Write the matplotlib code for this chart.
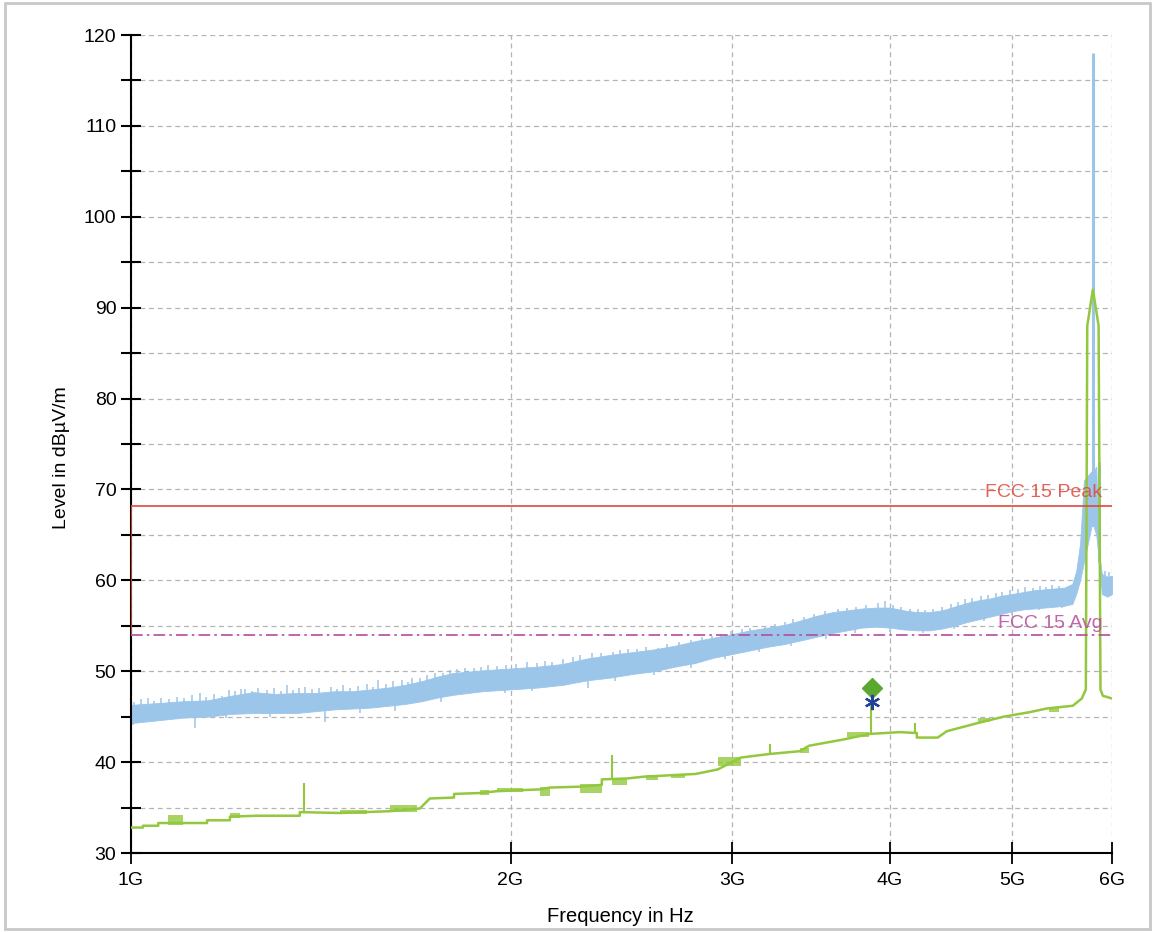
import numpy as np
import matplotlib
matplotlib.use("Agg")
import matplotlib.pyplot as plt
from matplotlib.ticker import FixedLocator, FuncFormatter, MultipleLocator
from matplotlib.patches import Rectangle

plt.rcParams["font.family"] = ["Liberation Sans", "DejaVu Sans"]

# ---- Peak trace: noise band envelope (GHz, dBµV/m) ----
peak_f = [1.00, 1.05, 1.10, 1.15, 1.20, 1.25, 1.30, 1.35, 1.40, 1.45, 1.50, 1.55,
          1.60, 1.65, 1.70, 1.75, 1.80, 1.90, 2.00, 2.10, 2.20, 2.30, 2.40, 2.50,
          2.60, 2.70, 2.80, 2.90, 3.00, 3.10, 3.20, 3.30, 3.40, 3.50, 3.60, 3.70,
          3.80, 3.90, 4.00, 4.10, 4.20, 4.30, 4.40, 4.50, 4.60, 4.70, 4.80, 4.90,
          5.00, 5.10, 5.20, 5.30, 5.40, 5.50, 5.58, 5.62, 5.66, 5.70, 5.74, 5.78,
          5.80, 5.83, 5.86, 5.89, 5.95, 6.00]
peak_lo = [44.3, 44.6, 44.9, 45.0, 45.3, 45.4, 45.4, 45.4, 45.6, 45.8, 45.9, 46.0,
           46.2, 46.4, 46.7, 47.1, 47.4, 47.8, 48.0, 48.2, 48.5, 49.0, 49.3, 49.7,
           50.0, 50.5, 50.9, 51.5, 51.9, 52.3, 52.7, 53.0, 53.4, 53.8, 54.2, 54.5,
           54.8, 54.9, 54.8, 54.6, 54.5, 54.5, 54.7, 55.0, 55.4, 55.7, 56.0, 56.3,
           56.6, 56.8, 56.9, 57.0, 57.1, 57.2, 57.4, 58.5, 60.0, 62.0, 64.0, 66.0,
           66.0, 65.0, 62.0, 58.5, 58.2, 58.5]
peak_hi = [46.3, 46.5, 46.7, 46.8, 47.3, 47.7, 47.5, 47.6, 47.6, 47.8, 47.8, 48.0,
           48.2, 48.5, 48.9, 49.4, 49.8, 50.1, 50.3, 50.5, 50.8, 51.4, 51.8, 52.1,
           52.4, 52.8, 53.3, 53.7, 54.1, 54.5, 54.8, 55.1, 55.6, 56.1, 56.5, 56.7,
           56.9, 57.0, 57.0, 56.7, 56.5, 56.5, 56.7, 57.1, 57.5, 57.8, 58.0, 58.3,
           58.5, 58.7, 58.9, 59.0, 59.1, 59.2, 59.6, 61.0, 64.0, 71.0, 71.5, 72.0,
           72.0, 72.5, 63.0, 60.7, 60.4, 60.5]

# Upward excursions of the peak trace: tip levels
peak_up_f = [1.006, 1.018, 1.031, 1.043, 1.057, 1.072, 1.088, 1.101, 1.118, 1.134,
             1.146, 1.163, 1.181, 1.196, 1.209, 1.222, 1.231, 1.247, 1.262, 1.281,
             1.298, 1.314, 1.329, 1.345, 1.360, 1.374, 1.392, 1.410, 1.441, 1.458,
             1.473, 1.492, 1.515, 1.538, 1.555, 1.570, 1.592, 1.615, 1.640, 1.658,
             1.671, 1.695, 1.716, 1.742, 1.768, 1.790, 1.815, 1.840, 1.870, 1.895,
             1.919, 1.950, 1.985, 2.020, 2.060, 2.100, 2.130, 2.158, 2.200, 2.240,
             2.270, 2.320, 2.360, 2.411, 2.445, 2.479, 2.520, 2.560, 2.618, 2.660,
             2.720, 2.780, 2.840, 2.888, 2.940, 2.990, 3.050, 3.100, 3.183, 3.240,
             3.301, 3.350, 3.420, 3.480, 3.550, 3.637, 3.700, 3.760, 3.830, 3.913,
             3.962, 4.020, 4.080, 4.150, 4.210, 4.264, 4.330, 4.400, 4.470, 4.530,
             4.585, 4.650, 4.720, 4.780, 4.850, 4.907, 4.980, 5.050, 5.117, 5.190,
             5.260, 5.320, 5.375, 5.450, 5.534, 5.920, 5.970]
peak_up_lvl = [46.6, 46.9, 47.0, 46.7, 47.0, 46.9, 47.2, 47.0, 47.4, 47.6,
               47.2, 47.5, 47.3, 47.9, 47.8, 48.0, 48.0, 47.8, 48.2, 47.9,
               48.1, 47.8, 48.5, 47.9, 48.1, 48.3, 48.0, 48.2, 48.3, 48.0,
               48.5, 48.2, 48.4, 48.6, 48.3, 49.0, 48.6, 48.9, 49.0, 48.8,
               49.3, 49.2, 49.6, 49.8, 49.8, 50.1, 50.2, 50.3, 50.4, 50.5,
               50.7, 50.6, 50.7, 50.8, 51.0, 50.9, 51.1, 51.0, 51.3, 51.6,
               51.8, 52.0, 52.0, 52.1, 52.3, 52.4, 52.4, 52.7, 52.6, 53.0,
               53.2, 53.4, 53.8, 53.9, 54.1, 54.4, 54.6, 54.8, 55.0, 55.2,
               55.4, 55.7, 56.0, 56.3, 56.6, 56.9, 57.0, 57.1, 57.3, 57.5,
               57.7, 57.3, 57.1, 56.9, 56.8, 56.7, 56.9, 57.1, 57.4, 57.6,
               58.0, 58.1, 58.3, 58.4, 58.6, 58.7, 58.9, 59.0, 59.3, 59.2,
               59.4, 59.3, 59.5, 59.4, 59.3, 61.0, 60.9]

# Downward excursions of the peak trace: tip levels
peak_dn_f = [1.003, 1.040, 1.124, 1.190, 1.290, 1.425, 1.520, 1.620, 1.760, 1.830,
             1.980, 2.080, 2.303, 2.420, 2.600, 2.780, 2.960, 3.150, 3.340, 3.560,
             3.750, 4.000, 4.250, 4.500, 4.750, 5.000, 5.250, 5.480]
peak_dn_lvl = [44.1, 44.4, 43.7, 44.8, 45.0, 44.4, 45.4, 45.6, 46.6, 47.6,
               47.6, 47.8, 48.2, 48.9, 49.6, 50.4, 51.3, 52.1, 52.8, 53.6,
               54.2, 54.3, 54.2, 54.6, 55.5, 56.2, 56.7, 57.0]

# Narrow carrier lines on the peak trace: (GHz, from dB, to dB)
peak_line_f = [5.794, 5.860]
peak_line_lo = [66.0, 62.0]
peak_line_hi = [118.0, 73.0]

# ---- Average trace (GHz, dBµV/m) ----
avg_f = [1.000, 1.022, 1.022, 1.051, 1.051, 1.149, 1.149, 1.198, 1.198, 1.259,
         1.361, 1.361, 1.465, 1.605, 1.695, 1.726, 1.804, 1.804, 1.891, 1.951,
         2.110, 2.149, 2.270, 2.363, 2.363, 2.474, 2.552, 2.806, 2.921, 3.046,
         3.212, 3.393, 3.450, 3.677, 3.855, 4.072, 4.201, 4.201, 4.365, 4.437,
         4.696, 4.924, 5.164, 5.326, 5.585, 5.678, 5.720, 5.735, 5.794, 5.855,
         5.875, 5.900, 6.000]
avg_lvl = [32.8, 32.8, 33.0, 33.0, 33.3, 33.3, 33.6, 33.6, 34.0, 34.1,
           34.1, 34.5, 34.4, 34.6, 34.9, 36.0, 36.1, 36.5, 36.6, 36.8,
           37.0, 37.2, 37.3, 37.5, 38.1, 38.2, 38.4, 38.7, 39.2, 40.5,
           40.9, 41.2, 41.8, 42.5, 43.1, 43.3, 43.2, 42.7, 42.7, 43.4,
           44.3, 45.0, 45.5, 45.9, 46.2, 47.0, 48.0, 88.0, 92.0, 88.0,
           48.0, 47.3, 47.0]

# Dense noise clusters on the average trace: (start GHz, end GHz, low dB, high dB)
avg_blob_f0 = [1.070, 1.198, 1.465, 1.605, 1.891, 1.951, 2.110, 2.270, 2.407, 2.560,
               2.680, 2.921, 3.393, 3.700, 4.700, 5.350]
avg_blob_f1 = [1.100, 1.220, 1.539, 1.686, 1.922, 2.046, 2.149, 2.363, 2.474, 2.620,
               2.750, 3.046, 3.450, 3.850, 4.800, 5.450]
avg_blob_lo = [33.1, 33.9, 34.3, 34.5, 36.4, 36.7, 36.3, 36.6, 37.5, 38.0,
               38.2, 39.6, 41.0, 42.8, 44.4, 45.5]
avg_blob_hi = [34.2, 34.4, 34.7, 35.3, 36.9, 37.1, 37.3, 37.6, 38.2, 38.6,
               38.7, 40.6, 41.6, 43.3, 44.9, 46.1]

avg_spike_f = [1.371, 2.407, 3.212, 3.865, 4.186]
avg_spike_lo = [34.5, 38.1, 40.9, 43.1, 43.2]
avg_spike_hi = [37.7, 40.8, 42.0, 46.6, 44.3]

# ---- Limit lines ----
peak_limit_f = [1.0, 1.0, 6.0]
peak_limit_lvl = [54.0, 68.2, 68.2]
avg_limit_f = [1.0, 6.0]
avg_limit_lvl = [54.0, 54.0]

# ---- Final measurement points ----
final_f = [3.87]
final_avg = [48.2]
final_peak = [46.6]

x_ticks = [1, 2, 3, 4, 5, 6]
x_tick_labels = ["1G", "2G", "3G", "4G", "5G", "6G"]

BLUE = "#9cc5ea"
GREEN = "#93c83e"
RED = "#e0483c"
MAGENTA = "#b54c9c"
FS = 14

fig = plt.figure(figsize=(11.53, 9.33), dpi=100)
ax = fig.add_axes([131 / 1153, 80 / 933, (1112 - 131) / 1153, (853 - 35) / 933])

# Peak trace
ax.fill_between(peak_f, peak_lo, peak_hi, color=BLUE, lw=0.6, zorder=2)
up_base = np.interp(peak_up_f, peak_f, peak_hi) - 0.5
dn_base = np.interp(peak_dn_f, peak_f, peak_lo) + 0.5
ax.vlines(peak_up_f, up_base, peak_up_lvl, color=BLUE, lw=1.1, zorder=2)
ax.vlines(peak_dn_f, peak_dn_lvl, dn_base, color=BLUE, lw=1.1, zorder=2)
ax.vlines(peak_line_f, peak_line_lo, peak_line_hi, color=BLUE, lw=2.2, zorder=2)

# Average trace
ax.plot(avg_f, avg_lvl, color=GREEN, lw=1.8, zorder=3)
for f0, f1, lo, hi in zip(avg_blob_f0, avg_blob_f1, avg_blob_lo, avg_blob_hi):
    ax.fill_between([f0, f1], [lo, lo], [hi, hi], color=GREEN, alpha=0.8, lw=0, zorder=3)
ax.vlines(avg_spike_f, avg_spike_lo, avg_spike_hi, color=GREEN, lw=1.5, zorder=3)

# Limits
ax.plot(peak_limit_f, peak_limit_lvl, color=RED, lw=1.2, zorder=4)
ax.plot(avg_limit_f, avg_limit_lvl, color=MAGENTA, lw=1.2, dashes=(7, 2.5, 1.5, 2.5), zorder=4)
ax.text(5.89, 68.2 + 0.5, "FCC 15 Peak", color=RED, fontsize=FS,
        ha="right", va="bottom", alpha=0.85, zorder=5)
ax.text(5.90, 54.0 + 0.3, "FCC 15 Avg", color=MAGENTA, fontsize=FS,
        ha="right", va="bottom", alpha=0.85, zorder=5)

# Final results
ax.plot(final_f, final_avg, marker="D", ms=10, color="#5aa832", mec="#5aa832", ls="none", zorder=6)
ax.plot(final_f, final_peak, marker=(6, 2, 0), ms=11, color="#23429a", mew=1.6, ls="none", zorder=6)

ax.set_xscale("log")
ax.set_xlim(1.0, 6.0)
ax.set_ylim(30, 120)
ax.xaxis.set_major_locator(FixedLocator(x_ticks))
ax.xaxis.set_major_formatter(FuncFormatter(lambda v, p: x_tick_labels[x_ticks.index(int(round(v)))]))
ax.xaxis.set_minor_locator(FixedLocator([]))
ax.yaxis.set_major_locator(MultipleLocator(10))
ax.yaxis.set_minor_locator(MultipleLocator(5))

ax.grid(True, which="both", axis="y", color="#b4b4b4", lw=0.9, dashes=(4, 3))
ax.grid(True, which="major", axis="x", color="#b4b4b4", lw=0.9, dashes=(4, 3))
ax.set_axisbelow(True)

for s in ("top", "right"):
    ax.spines[s].set_visible(False)
for s in ("left", "bottom"):
    ax.spines[s].set_linewidth(1.5)
    ax.spines[s].set_color("black")

ax.tick_params(axis="y", which="both", direction="inout", length=15, width=1.5, labelsize=FS, pad=3)
ax.tick_params(axis="x", which="major", direction="inout", length=16, width=1.3, labelsize=FS, pad=6)

fig.text(62 / 1153, 1 - 458 / 933, "Level in dBµV/m", rotation=90, fontsize=FS,
         ha="center", va="center")
fig.text(620 / 1153, 1 - 916 / 933, "Frequency in Hz", fontsize=14.5, ha="center", va="center")

fig.patches.append(Rectangle((5 / 1153, 4 / 933), 1145 / 1153, 926 / 933, transform=fig.transFigure,
                             fill=False, edgecolor="#c8c8c8", lw=2))

fig.savefig("out.png", dpi=100)
